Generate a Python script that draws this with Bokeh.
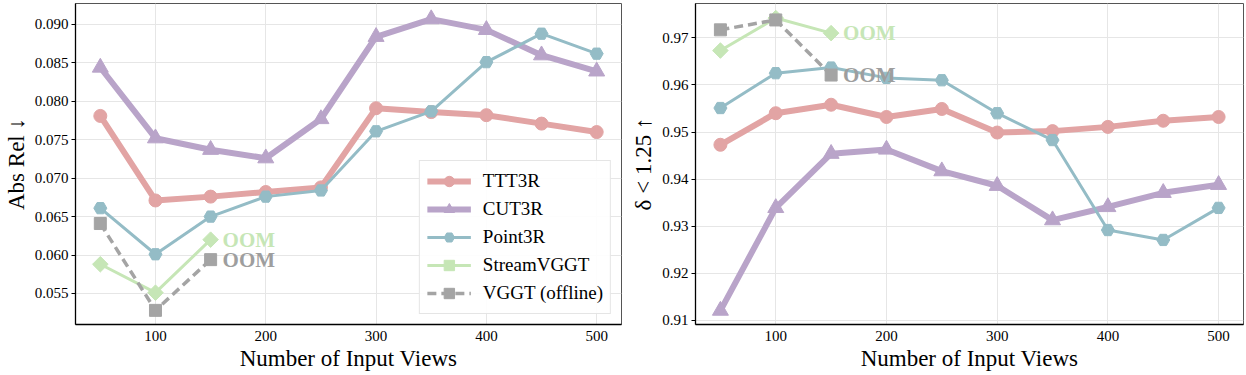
from bokeh.plotting import figure
from bokeh.layouts import row
from bokeh.models import Range1d, FixedTicker, NumeralTickFormatter, Legend, LegendItem, ColumnDataSource
from bokeh.embed import file_html
from bokeh.resources import INLINE

views = [50, 100, 150, 200, 250, 300, 350, 400, 450, 500]
views_short = [50, 100, 150]

absrel_ttt3r = [0.0781, 0.0671, 0.0676, 0.0682, 0.0688, 0.0791, 0.0786, 0.0782, 0.0771, 0.0760]
absrel_cut3r = [0.0844, 0.0752, 0.0737, 0.0726, 0.0777, 0.0884, 0.0907, 0.0893, 0.0860, 0.0839]
absrel_point3r = [0.0661, 0.0601, 0.0650, 0.0676, 0.0684, 0.0761, 0.0787, 0.0851, 0.0888, 0.0862]
absrel_streamvggt = [0.0588, 0.0551, 0.0620]
absrel_vggt = [0.0641, 0.0528, 0.0594]

delta_ttt3r = [0.9473, 0.9540, 0.9558, 0.9532, 0.9549, 0.9499, 0.9502, 0.9511, 0.9524, 0.9532]
delta_cut3r = [0.9121, 0.9339, 0.9454, 0.9463, 0.9417, 0.9386, 0.9313, 0.9341, 0.9371, 0.9388]
delta_point3r = [0.9551, 0.9625, 0.9637, 0.9615, 0.9610, 0.9540, 0.9483, 0.9292, 0.9271, 0.9339]
delta_streamvggt = [0.9673, 0.9742, 0.9710]
delta_vggt = [0.9717, 0.9738, 0.9621]

names = ["TTT3R", "CUT3R", "Point3R", "StreamVGGT", "VGGT (offline)"]
colors = ["#e2a4a4", "#b9a4c9", "#94bcc6", "#c6e6b6", "#a4a4a4"]
markers = ["circle", "triangle", "hex", "square", "square"]
angles = [0, 0, 0, 0.7854, 0]
msizes = [13, 16, 13, 11, 12]
lwidths = [6, 6, 3, 3, 3.5]
dashes = ["solid", "solid", "solid", "solid", "9 5"]
oom_label = "OOM"

FONT = "Liberation Serif"


def make_fig(series, yr, yticks, yfmt, ylabel, width, bl, br, legend):
    p = figure(width=width, height=375, output_backend="svg", toolbar_location=None,
               x_range=Range1d(27.5, 522.5), y_range=Range1d(*yr),
               min_border_left=bl, min_border_right=br, min_border_top=3, min_border_bottom=51)
    p.outline_line_color = "#555555"
    p.outline_line_width = 1
    p.xaxis.ticker = FixedTicker(ticks=[100, 200, 300, 400, 500])
    p.yaxis.ticker = FixedTicker(ticks=yticks)
    p.yaxis.formatter = NumeralTickFormatter(format=yfmt)
    for ax in (p.xaxis[0], p.yaxis[0]):
        ax.axis_line_color = "black"
        ax.axis_line_width = 1.3
        ax.major_label_text_font = FONT
        ax.major_label_text_font_size = "15px"
        ax.major_label_text_color = "black"
        ax.axis_label_text_font = FONT
        ax.axis_label_text_font_size = "23px"
        ax.axis_label_text_font_style = "normal"
        ax.axis_label_text_color = "black"
        ax.minor_tick_line_color = None
        ax.minor_tick_out = 0
        ax.minor_tick_in = 0
    p.xaxis.major_tick_line_color = None
    p.xaxis.major_tick_out = 0
    p.xaxis.major_tick_in = 0
    p.xaxis.major_label_standoff = 6
    p.xaxis.axis_label_standoff = 2
    p.yaxis.major_tick_out = 4
    p.yaxis.major_tick_in = 0
    p.yaxis.major_label_standoff = 3
    p.yaxis.axis_label_standoff = 3
    p.xaxis.axis_label = "Number of Input Views"
    p.yaxis.axis_label = ylabel
    p.xgrid.grid_line_color = "#e6e6e6"
    p.ygrid.grid_line_color = "#e6e6e6"
    p.xgrid.grid_line_width = 1
    p.ygrid.grid_line_width = 1

    items = []
    for i, (xs, ys) in enumerate(series):
        src = ColumnDataSource(dict(x=xs, y=ys))
        l = p.line("x", "y", source=src, line_color=colors[i], line_width=lwidths[i], line_dash=dashes[i])
        s = p.scatter("x", "y", source=src, marker=markers[i], size=msizes[i], angle=angles[i],
                      fill_color=colors[i], line_color=colors[i])
        items.append(LegendItem(label=names[i], renderers=[l, s]))

    for i in (3, 4):
        xs, ys = series[i]
        src = ColumnDataSource(dict(x=[xs[-1]], y=[ys[-1]], t=[oom_label]))
        p.text("x", "y", text="t", source=src, x_offset=12, text_baseline="middle",
               text_align="left", text_color=colors[i] if i == 3 else "#9e9e9e",
               text_font_size="21px", text_font_style="bold", text_font={"value": FONT})

    if legend:
        lg = Legend(items=items, location="bottom_right")
        lg.label_text_font = FONT
        lg.label_text_font_size = "19px"
        lg.label_text_color = "black"
        lg.glyph_width = 44
        lg.glyph_height = 26
        lg.label_height = 26
        lg.spacing = 2
        lg.padding = 7
        lg.margin = 10
        lg.label_standoff = 12
        lg.border_line_color = "#cccccc"
        lg.border_line_width = 1
        lg.background_fill_alpha = 0.9
        p.add_layout(lg, "center")
    return p


left = make_fig(
    [(views, absrel_ttt3r), (views, absrel_cut3r), (views, absrel_point3r),
     (views_short, absrel_streamvggt), (views_short, absrel_vggt)],
    (0.05096, 0.09273), [0.055, 0.060, 0.065, 0.070, 0.075, 0.080, 0.085, 0.090], "0.000",
    "Abs Rel \u2193", 628, 72, 7, True)

right = make_fig(
    [(views, delta_ttt3r), (views, delta_cut3r), (views, delta_point3r),
     (views_short, delta_streamvggt), (views_short, delta_vggt)],
    (0.90915, 0.97729), [0.91, 0.92, 0.93, 0.94, 0.95, 0.96, 0.97], "0.00",
    "\u03b4 < 1.25 \u2191", 618, 64, 3, False)

layout = row(left, right)
open("out.html", "w").write(file_html(layout, INLINE))
